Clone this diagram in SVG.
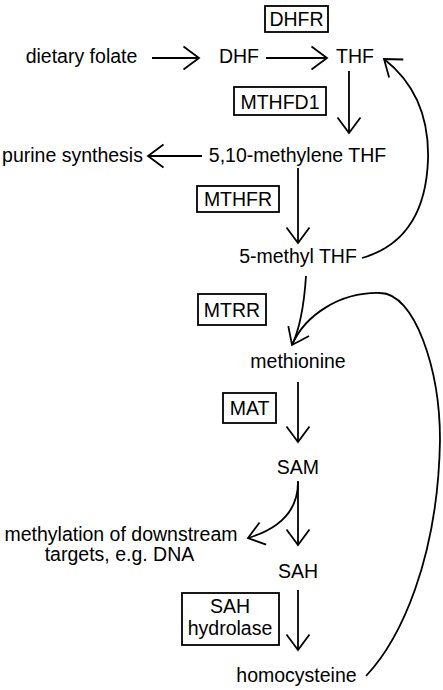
<svg xmlns="http://www.w3.org/2000/svg" width="443" height="690" viewBox="0 0 443 690">
<style>
text{font-family:"Liberation Sans",Arial,sans-serif;font-size:19.5px;fill:#000;text-anchor:middle}
.box{fill:#fff;stroke:#000;stroke-width:1.8}
.c{fill:none;stroke:#000;stroke-width:1.8}
</style>
<defs>
<marker id="ah" markerUnits="userSpaceOnUse" markerWidth="40" markerHeight="40" viewBox="-20 -20 40 40" refX="0" refY="0" orient="auto" overflow="visible">
<path d="M-15.5,-11.5 L0,0 L-15.5,11.5" fill="none" stroke="#000" stroke-width="1.8" stroke-linejoin="miter"/>
</marker>
</defs>
<rect width="443" height="690" fill="#fff"/>
<g id="connectors">
<path class="c" d="M152,58 L199,58" marker-end="url(#ah)"/>
<path class="c" d="M266,58 L327,58" marker-end="url(#ah)"/>
<path class="c" d="M349,71 L349,133" marker-end="url(#ah)"/>
<path class="c" d="M202,156 L148,156" marker-end="url(#ah)"/>
<path class="c" d="M298,168 L298,243" marker-end="url(#ah)"/>
<path class="c" d="M362,258 Q425,240 428,160 Q430,95 384,59" marker-end="url(#ah)"/>
<path class="c" d="M306,276 Q303,322 292,345" marker-end="url(#ah)"/>
<path class="c" d="M366,676 C400,640 438,560 440,440 C440,370 415,293 380,293 C340,292 305,315 292,345"/>
<path class="c" d="M298,382 L298,442" marker-end="url(#ah)"/>
<path class="c" d="M298,481 L298,545" marker-end="url(#ah)"/>
<path class="c" d="M298,482 C298,515 275,530 248,538" marker-end="url(#ah)"/>
<path class="c" d="M298,590 L298,650" marker-end="url(#ah)"/>
</g>
<g id="dietary-folate"><text x="81.5" y="63">dietary folate</text></g>
<g id="DHF"><text x="239" y="63">DHF</text></g>
<g id="THF"><text x="355" y="63">THF</text></g>
<g id="DHFR"><rect class="box" x="265" y="6" width="63" height="26"/><text x="296.5" y="26">DHFR</text></g>
<g id="MTHFD1"><rect class="box" x="234" y="87" width="92" height="28"/><text x="280" y="109">MTHFD1</text></g>
<g id="purine-synthesis"><text x="72.5" y="162">purine synthesis</text></g>
<g id="methylene-THF"><text x="297.5" y="162">5,10-methylene THF</text></g>
<g id="MTHFR"><rect class="box" x="197" y="186" width="82" height="26"/><text x="238" y="206">MTHFR</text></g>
<g id="methyl-THF"><text x="298" y="263">5-methyl THF</text></g>
<g id="MTRR"><rect class="box" x="198" y="294" width="68" height="31"/><text x="232" y="317">MTRR</text></g>
<g id="methionine"><text x="298" y="368">methionine</text></g>
<g id="MAT"><rect class="box" x="223" y="393" width="53" height="30"/><text x="249.5" y="415">MAT</text></g>
<g id="SAM"><text x="298" y="474">SAM</text></g>
<g id="methylation"><text x="121" y="541">methylation of downstream</text><text x="119.5" y="561">targets, e.g. DNA</text></g>
<g id="SAH"><text x="298" y="578">SAH</text></g>
<g id="SAH-hydrolase"><rect class="box" x="182" y="593" width="97" height="52"/><text x="230" y="613">SAH</text><text x="230" y="635">hydrolase</text></g>
<g id="homocysteine"><text x="296.5" y="682">homocysteine</text></g>
</svg>
